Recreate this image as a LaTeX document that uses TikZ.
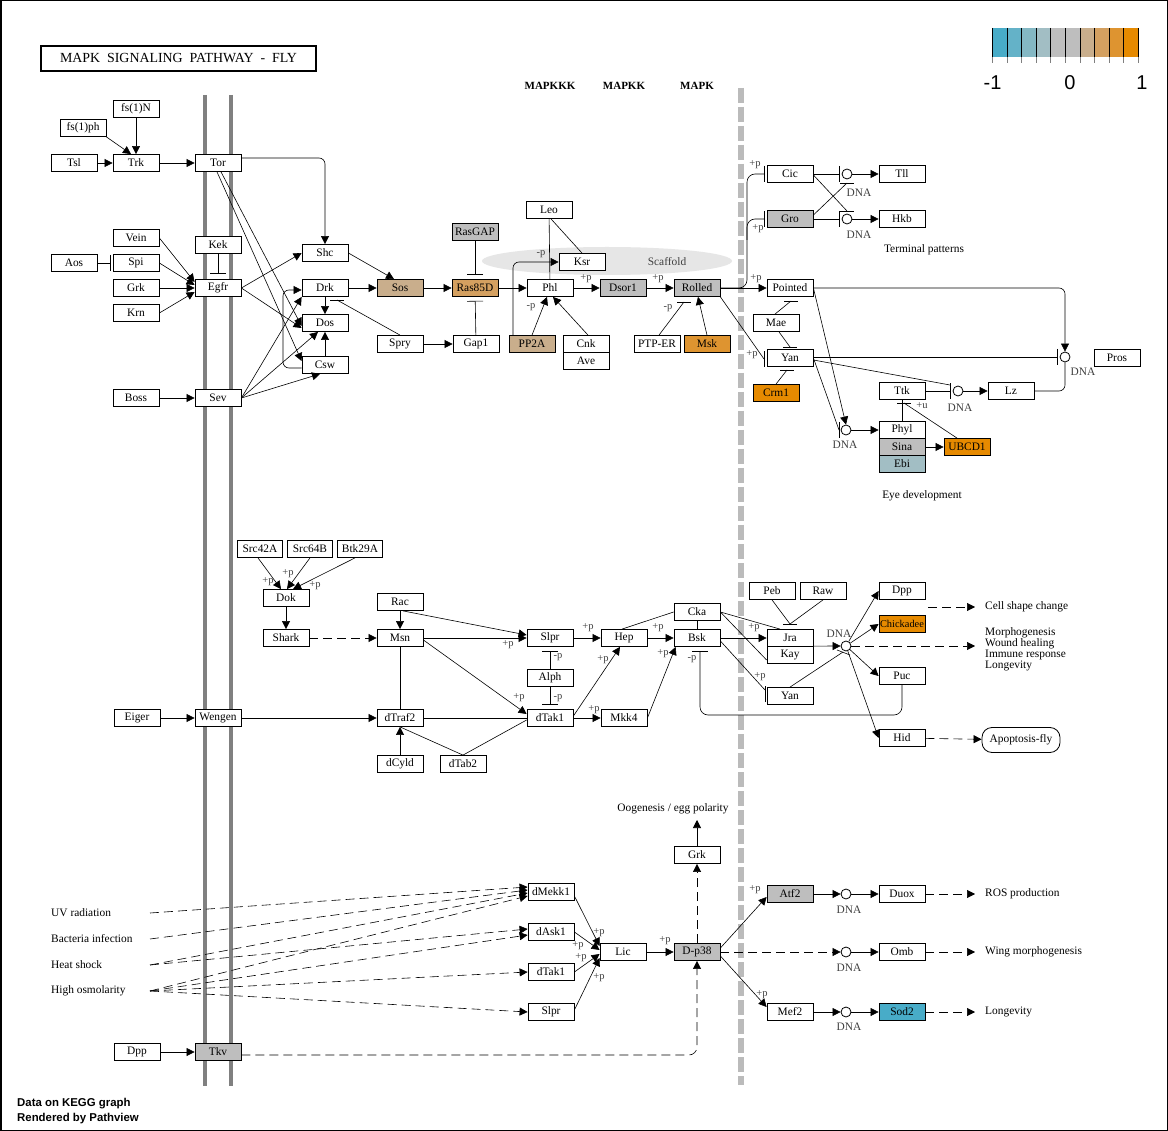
\documentclass[tikz,border=0pt]{standalone}
\usepackage{fontspec}
\setmainfont{Liberation Serif}
\newfontfamily\sansf{Liberation Sans}
\usetikzlibrary{arrows.meta}
\definecolor{kgray}{HTML}{BEBEBE}
\definecolor{ktan}{HTML}{C9AE8C}
\definecolor{kras}{HTML}{D4A060}
\definecolor{kmsk}{HTML}{DE9430}
\definecolor{korg}{HTML}{E68A00}
\definecolor{kblue}{HTML}{48ACC8}
\definecolor{kebi}{HTML}{A2BEC4}
\definecolor{kmem}{HTML}{808080}
\definecolor{kdiv}{HTML}{BBBBBB}
\definecolor{kscaf}{HTML}{E6E6E6}
\definecolor{klab}{HTML}{404040}
\newcommand\kfont{\fontsize{11.4}{12}\selectfont}
\newcommand\kpfont{\fontsize{10.5}{11}\selectfont}
\newcommand\khbar[1]{\draw[edge] ([xshift=-7pt]#1) -- ([xshift=7pt]#1);}
\newcommand\kvbar[1]{\draw[edge] ([yshift=-8pt]#1) -- ([yshift=8pt]#1);}
\begin{document}
\begin{tikzpicture}[x=1pt, y=-1pt,
  edge/.style={line width=0.6pt},
  act/.style={edge, -{Triangle[length=8pt,width=8pt]}},
  inh/.style={edge, -{Bar[width=16pt]}, shorten >=2pt},
  ind/.style={act, dash pattern=on 9pt off 5pt},
  gene/.style={draw, line width=0.8pt, minimum width=46pt, minimum height=17pt, inner sep=0pt, fill=white, font=\kfont},
  gr/.style={gene, fill=kgray},
  dna/.style={circle, draw, line width=0.8pt, fill=white, minimum size=10pt, inner sep=0pt},
  txt/.style={font=\kfont, inner sep=0pt},
  lab/.style={font=\kpfont, text=klab, inner sep=0pt},
  dnal/.style={font=\kfont, text=klab, inner sep=0pt}]
\useasboundingbox (0,0) rectangle (1168,1131);
\fill[white] (0,0) rectangle (1168,1131);
\draw[line width=1.5pt] (0.75,0.75) rectangle (1167.25,1130.25);

% ---------- background structures
\draw[kmem, line width=4pt] (205,95) -- (205,1086);
\draw[kmem, line width=4pt] (231,95) -- (231,1086);
\draw[kdiv, line width=6pt, dash pattern=on 15pt off 4pt] (741,88) -- (741,1085);
\fill[kscaf] (607,261) ellipse [x radius=125pt, y radius=14pt];
\node[txt, text=klab] (scafl) at (667,262) {Scaffold};

% ---------- title and headers
\node[draw, line width=1.6pt, minimum width=275pt, minimum height=25pt, inner sep=0pt,
      font=\fontsize{13.9}{14}\selectfont] (title) at (178.5,58.5) {MAPK\ \ SIGNALING\ \ PATHWAY\ \ -\ \ FLY};
\node[font=\bfseries\fontsize{11}{12}\selectfont, inner sep=0pt] (hK3) at (550,86) {MAPKKK};
\node[font=\bfseries\fontsize{11}{12}\selectfont, inner sep=0pt] (hK2) at (624,86) {MAPKK};
\node[font=\bfseries\fontsize{11}{12}\selectfont, inner sep=0pt] (hK1) at (697,86) {MAPK};

% ---------- legend
\foreach \c [count=\i from 0] in {48ACC8,64B2C8,84B8C4,A2BEC4,BEBEBE,BEBEBE,C9AE8C,D4A060,DE9430,E68A00} {
  \definecolor{lc}{HTML}{\c}
  \fill[lc] ({992.5+\i*14.55},28) rectangle ({992.5+(\i+1)*14.55},57);
}
\foreach \i in {0,...,10} {
  \draw[line width=0.6pt] ({992.5+\i*14.55},28) -- ({992.5+\i*14.55},57);
  \draw[kmem, line width=0.6pt] ({992.5+\i*14.55},57) -- ({992.5+\i*14.55},63);
}
\node[font=\sansf\fontsize{20}{20}\selectfont, inner sep=0pt] (lgm) at (992.5,83) {-1};
\node[font=\sansf\fontsize{20}{20}\selectfont, inner sep=0pt] (lg0) at (1070,83) {0};
\node[font=\sansf\fontsize{20}{20}\selectfont, inner sep=0pt] (lg1) at (1142,83) {1};

% ---------- nodes: top left
\node[gene] (fsN) at (136,109) {fs(1)N};
\node[gene] (fsph) at (83,128) {fs(1)ph};
\node[gene] (Tsl) at (74,163) {Tsl};
\node[gene] (Trk) at (136,163) {Trk};
\node[gene] (Tor) at (218,163) {Tor};
\node[gene] (Vein) at (136,238) {Vein};
\node[gene] (Aos) at (74,263) {Aos};
\node[gene] (Spi) at (136,263) {Spi};
\node[gene] (Grk) at (136,288) {Grk};
\node[gene] (Krn) at (136,313) {Krn};
\node[gene] (Kek) at (218,245) {Kek};
\node[gene] (Egfr) at (218,288) {Egfr};
\node[gene] (Boss) at (136,398) {Boss};
\node[gene] (Sev) at (218,398) {Sev};
\node[gene] (Shc) at (325,253) {Shc};
\node[gene] (Drk) at (325,288) {Drk};
\node[gene] (Dos) at (325,323) {Dos};
\node[gene] (Csw) at (325,365) {Csw};
\node[gene, fill=ktan] (Sos) at (400,288) {Sos};
\node[gr] (RasGAP) at (475,232) {RasGAP};
\node[gene, fill=kras] (Ras) at (475,288) {Ras85D};
\node[gene] (Gap1) at (476,344) {Gap1};
\node[gene] (Spry) at (400,344) {Spry};
\node[gene] (Leo) at (549,210) {Leo};
\node[gene] (Ksr) at (582,262) {Ksr};
\node[gene] (Phl) at (550,288) {Phl};
\node[gene, fill=ktan] (PP2A) at (532,344) {PP2A};
\node[gene] (Cnk) at (586,344) {Cnk};
\node[gene] (Ave) at (586,361) {Ave};
\node[gr] (Dsor1) at (623,288) {Dsor1};
\node[gr] (Rolled) at (697,288) {Rolled};
\node[gene] (PTPER) at (657,344) {PTP-ER};
\node[gene, fill=kmsk] (Msk) at (707,344) {Msk};

% ---------- nodes: top right
\node[gene] (Cic) at (790,174) {Cic};
\node[gr] (Gro) at (790,219) {Gro};
\node[dna] (dTll) at (847,174) {};
\node[dna] (dHkb) at (847,219) {};
\node[gene] (Tll) at (902,174) {Tll};
\node[gene] (Hkb) at (902,219) {Hkb};
\node[gene] (Pointed) at (790,288) {Pointed};
\node[gene] (Mae) at (776,323) {Mae};
\node[gene] (Yan) at (790,358) {Yan};
\node[gene, fill=korg] (Crm1) at (776,393) {Crm1};
\node[gene] (Ttk) at (902,391) {Ttk};
\node[dna] (dTtk) at (958,391) {};
\node[gene] (Lz) at (1011,391) {Lz};
\node[gene] (Phyl) at (902,430) {Phyl};
\node[gr] (Sina) at (902,447) {Sina};
\node[gene, fill=kebi] (Ebi) at (902,464) {Ebi};
\node[dna] (dPhyl) at (846,430) {};
\node[gene, fill=korg] (UBCD1) at (967,447) {UBCD1};
\node[dna] (dPros) at (1065,357) {};
\node[gene] (Pros) at (1117,358) {Pros};
\node[txt] (termp) at (924,250) {Terminal patterns};
\node[txt] (eyed) at (922,496) {Eye development};

% ---------- nodes: middle
\node[gene, minimum width=45pt] (Src42A) at (260,549) {Src42A};
\node[gene, minimum width=45pt] (Src64B) at (310,549) {Src64B};
\node[gene, minimum width=45pt] (Btk) at (360,549) {Btk29A};
\node[gene] (Dok) at (286,598) {Dok};
\node[gene] (Shark) at (286,638) {Shark};
\node[gene] (Rac) at (400,602) {Rac};
\node[gene] (Msn) at (400,638) {Msn};
\node[gene] (Slpr) at (550,638) {Slpr};
\node[gene] (Hep) at (624,638) {Hep};
\node[gene] (Cka) at (697,612) {Cka};
\node[gene] (Bsk) at (697,638) {Bsk};
\node[gene] (Alph) at (550,678) {Alph};
\node[gene] (Eiger) at (137,718) {Eiger};
\node[gene] (Wengen) at (218,718) {Wengen};
\node[gene] (dTraf2) at (400,718) {dTraf2};
\node[gene] (dTak) at (550,718) {dTak1};
\node[gene] (Mkk4) at (624,718) {Mkk4};
\node[gene] (dCyld) at (400,764) {dCyld};
\node[gene] (dTab2) at (463,764) {dTab2};
\node[gene] (Peb) at (772,591) {Peb};
\node[gene] (Raw) at (823,591) {Raw};
\node[gene] (Jra) at (790,638) {Jra};
\node[gene] (Kay) at (790,655) {Kay};
\node[gene] (Yan2) at (790,696) {Yan};
\node[dna] (dJ) at (846,646) {};
\node[gene] (Dpp) at (902,591) {Dpp};
\node[gene, fill=korg, font=\fontsize{10.4}{12}\selectfont] (Chick) at (902,624) {Chickadee};
\node[gene] (Puc) at (902,676) {Puc};
\node[gene] (Hid) at (902,738) {Hid};
\node[draw, line width=0.8pt, rounded corners=10pt, minimum width=78pt, minimum height=25pt, inner sep=0pt, font=\kfont] (Apop) at (1021,740) {Apoptosis-fly};
\node[txt, anchor=west] (tcell) at (985,607) {Cell shape change};
\node[txt, anchor=west] (tm1) at (985,633) {Morphogenesis};
\node[txt, anchor=west] (tm2) at (985,644) {Wound healing};
\node[txt, anchor=west] (tm3) at (985,655) {Immune response};
\node[txt, anchor=west] (tm4) at (985,666) {Longevity};

% ---------- nodes: bottom
\node[txt, anchor=west] (tUV) at (51,913) {UV radiation};
\node[txt, anchor=west] (tBac) at (51,939) {Bacteria infection};
\node[txt, anchor=west] (tHeat) at (51,965) {Heat shock};
\node[txt, anchor=west] (tOsm) at (51,991) {High osmolarity};
\coordinate (sUV) at (150,913);
\coordinate (sBac) at (150,939);
\coordinate (sHeat) at (150,965);
\coordinate (sOsm) at (150,991);
\node[gene] (dMekk) at (551,892) {dMekk1};
\node[gene] (dAsk) at (551,932) {dAsk1};
\node[gene] (dTak2) at (551,972) {dTak1};
\node[gene] (Slpr2) at (551,1012) {Slpr};
\node[gene] (Lic) at (623,952) {Lic};
\node[gr] (Dp38) at (697,952) {D-p38};
\node[gene] (Grk2) at (697,855) {Grk};
\node[txt] (oog) at (673,809) {Oogenesis / egg polarity};
\coordinate (oogtip) at (697,820);
\node[gr] (Atf2) at (790,894) {Atf2};
\node[dna] (dDuox) at (846,894) {};
\node[gene] (Duox) at (902,894) {Duox};
\node[dna] (dOmb) at (846,952) {};
\node[gene] (Omb) at (902,952) {Omb};
\node[gene] (Mef2) at (790,1012) {Mef2};
\node[dna] (dSod) at (846,1012) {};
\node[gene, fill=kblue] (Sod2) at (902,1012) {Sod2};
\node[txt, anchor=west] (tros) at (985,894) {ROS production};
\node[txt, anchor=west] (twing) at (985,952) {Wing morphogenesis};
\node[txt, anchor=west] (tlong) at (985,1012) {Longevity};
\node[gene] (Dpp2) at (137,1052) {Dpp};
\node[gr] (Tkv) at (218,1052) {Tkv};
\node[font=\sansf\bfseries\fontsize{11.4}{13}\selectfont, inner sep=0pt, anchor=west] (pv1) at (17,1104) {Data on KEGG graph};
\node[font=\sansf\bfseries\fontsize{11.4}{13}\selectfont, inner sep=0pt, anchor=west] (pv2) at (17,1119) {Rendered by Pathview};

% ---------- edges: top left
\draw[act] (fsN.south) -- (Trk.north);
\draw[act] (fsph.south east) -- ([xshift=-5pt]Trk.north);
\draw[act] (Tsl) -- (Trk);
\draw[act] (Trk) -- (Tor);
\draw[act, rounded corners=6pt] ([yshift=5pt]Tor.east) -| (Shc.north);
\draw[act] ([xshift=3pt]Tor.south) -- ([yshift=-3pt]Dos.west);
\draw[act] ([xshift=-1pt]Tor.south) -- ([yshift=4pt]Csw.west);
\draw[act] (Vein.east) -- ([yshift=6pt]Egfr.west);
\draw[act] (Spi.east) -- ([yshift=3pt]Egfr.west);
\draw[act] (Grk.east) -- (Egfr.west);
\draw[act] (Krn.east) -- ([yshift=-4pt]Egfr.west);
\draw[inh] (Aos) -- (Spi);
\draw[inh, shorten >=5pt] (Kek) -- (Egfr);
\draw[act] (Boss) -- (Sev);
\draw[act] (Egfr.east) -- (Shc.west);
\draw[act] (Egfr.east) -- ([yshift=-5pt]Dos.west);
\draw[act, rounded corners=6pt] ([yshift=-3pt]Csw.west) -- (283,368) -- (283,290) -- ([yshift=-2pt]Drk.west);
\draw[act] (Sev.east) -- (Drk.south west);
\draw[act] (Sev.east) -- ([xshift=-7pt]Dos.south);
\draw[act] (Sev.east) -- ([xshift=-5pt]Csw.south);
\draw[act] (Drk) -- (Dos);
\draw[act] (Csw) -- (Dos);
\draw[act] (Shc.east) -- ([xshift=-6pt]Sos.north);
\draw[act] (Drk) -- (Sos);
\draw[act] (Sos) -- (Ras);
\coordinate (spb) at (337,300);
\draw[edge] (Spry.north) -- (spb);
\khbar{spb}
\draw[act] (Spry) -- (Gap1);
\draw[inh, shorten >=4pt] (Gap1) -- (Ras);
\draw[inh, shorten >=4pt] (RasGAP) -- (Ras);
\draw[act] (Ras) -- (Phl);
\draw[edge] (Leo) -- (Phl);
\draw[edge] ([xshift=2pt]Leo.south) -- (Ksr.north);
\draw[act, rounded corners=6pt] ([xshift=-19pt]PP2A.north) |- (Ksr.west);
\draw[act] (PP2A.north) -- ([xshift=-3pt]Phl.south);
\draw[act] ([xshift=2pt]Cnk.north) -- ([xshift=3pt]Phl.south);
\draw[act] (Phl) -- (Dsor1);
\draw[act] (Dsor1) -- (Rolled);
\coordinate (ptpb) at (684,302);
\draw[edge] ([xshift=2pt]PTPER.north) -- (ptpb);
\khbar{ptpb}
\draw[act] (Msk.north) -- ([xshift=1pt]Rolled.south);

% ---------- edges: top right
\draw[act] (Rolled) -- (Pointed);
\draw[inh, rounded corners=8pt] (Rolled.east) -- (747,288) -- (747,174) -- (Cic.west);
\draw[inh, rounded corners=8pt] (747,240) -- (747,219) -- (Gro.west);
\coordinate (yanb) at (764,359);
\draw[edge] (Rolled.south east) -- (yanb);
\kvbar{yanb}
\draw[inh] (Cic) -- (dTll);
\draw[inh] (Gro) -- (dHkb);
\coordinate (hkbb) at (847,211);
\coordinate (tllb) at (847,183);
\draw[edge] ([yshift=-1pt]Cic.east) -- (hkbb);
\khbar{hkbb}
\draw[edge] ([yshift=4pt]Gro.east) -- (tllb);
\khbar{tllb}
\draw[act] (dTll) -- (Tll);
\draw[act] (dHkb) -- (Hkb);
\coordinate (maeb1) at (791,301);
\draw[edge] ([xshift=-1pt]Mae.north) -- (maeb1);
\khbar{maeb1}
\coordinate (maeb2) at (790,347);
\draw[edge] ([xshift=3pt]Mae.south) -- (maeb2);
\khbar{maeb2}
\coordinate (crmb) at (787,370);
\draw[edge] (Crm1.north) -- (crmb);
\khbar{crmb}
\draw[act] (Pointed.east) -- (dPhyl.north);
\coordinate (phb) at (839,430);
\draw[edge] (Yan.east) -- (phb);
\kvbar{phb}
\draw[act] (dPhyl) -- (Phyl);
\draw[inh] ([yshift=1pt]Yan.east) -- (dPros.west);
\draw[act, rounded corners=6pt] (Pointed.east) -| (dPros.north);
\draw[edge, rounded corners=6pt] (Lz.east) -| (dPros.south);
\coordinate (ttkb) at (950,391);
\draw[edge] ([yshift=-2pt]Yan.east) -- (950,385);
\draw[edge] (Ttk.east) -- (ttkb);
\kvbar{ttkb}
\draw[act] (dTtk) -- (Lz);
\draw[edge] (Ttk) -- (Phyl);
\coordinate (ubcb) at (904,403);
\draw[edge] ([xshift=-10pt]UBCD1.north) -- (ubcb);
\khbar{ubcb}
\draw[act] (Sina) -- (UBCD1);

% ---------- edges: middle
\draw[act] ([xshift=-2pt]Src42A.south) -- ([xshift=-5pt]Dok.north);
\draw[act] (Src64B.south) -- ([xshift=1pt]Dok.north);
\draw[act] ([xshift=-5pt]Btk.south) -- ([xshift=7pt]Dok.north);
\draw[act] (Dok) -- (Shark);
\draw[ind] (Shark) -- (Msn);
\draw[act] (Rac) -- (Msn);
\draw[act] ([xshift=3pt]Rac.south) -- ([yshift=3pt]Slpr.west);
\draw[act] (Msn) -- (Slpr);
\draw[act] ([yshift=-2pt]Msn.east) -- ([yshift=4pt]dTak.west);
\draw[edge] (Msn) -- (dTraf2);
\draw[act] (Wengen) -- (dTraf2);
\draw[act] (Eiger) -- (Wengen);
\draw[edge] (dTraf2) -- (dTak);
\draw[act] (dCyld) -- (dTraf2);
\draw[edge] (dTab2.north) -- (dTraf2.south);
\draw[edge] (dTab2.north) -- ([yshift=-2pt]dTak.west);
\draw[inh, shorten >=4pt] (Alph) -- (Slpr);
\draw[inh, shorten >=5pt] (Alph) -- (dTak);
\draw[act] (Slpr) -- (Hep);
\draw[act] (Hep) -- (Bsk);
\draw[act] ([yshift=2pt]dTak.east) -- ([xshift=-4pt]Hep.south);
\draw[act] (dTak) -- (Mkk4);
\draw[act] (Mkk4.east) -- ([xshift=2pt]Bsk.south west);
\draw[edge] (Cka.west) -- ([xshift=-2pt]Hep.north);
\draw[edge] (Cka) -- (Bsk);
\draw[inh, shorten >=4pt, rounded corners=8pt] (Puc.south) -- (902,715) -- (700,715) -- ([xshift=3pt]Bsk.south);
\draw[edge] (Cka.east) -- ([xshift=-10pt]Jra.north);
\draw[edge] (Cka.east) -- ([yshift=-5pt]Kay.west);
\draw[act] (Bsk) -- (Jra);
\coordinate (yan2b) at (765,694);
\draw[edge] ([yshift=-3pt]Bsk.east) -- (765,690);
\kvbar{yan2b}
\coordinate (jrab) at (790,624);
\draw[edge] (Peb.south) -- (jrab);
\draw[edge] (Raw.south) -- (jrab);
\khbar{jrab}
\draw[act] (Kay.north east) -- (dJ.west);
\coordinate (djb) at (843,652);
\draw[edge] (Yan2.north) -- (djb);
\draw[edge] (837,650) -- (850,655);
\draw[act] (dJ) -- (Dpp.west);
\draw[act] (dJ) -- (Chick.west);
\draw[act] (dJ) -- (Puc.west);
\draw[act] (dJ) -- (Hid.west);
\coordinate (morphA) at (975,646);
\draw[ind] (dJ) -- (morphA);
\coordinate (cellA) at (928,607);
\coordinate (cellB) at (975,607);
\draw[ind] (cellA) -- (cellB);
\draw[ind] (Hid) -- (Apop);

% ---------- edges: bottom
\draw[ind] (sUV) -- ([yshift=5pt]dMekk.west);
\draw[ind] (sBac) -- ([yshift=2pt]dMekk.west);
\draw[ind] (sHeat) -- ([yshift=-1pt]dMekk.west);
\draw[ind] (sOsm) -- ([yshift=-4pt]dMekk.west);
\draw[ind] (sHeat) -- ([yshift=3pt]dAsk.west);
\draw[ind] (sOsm) -- ([yshift=-3pt]dAsk.west);
\draw[ind] (sOsm) -- (dTak2.west);
\draw[ind] (sOsm) -- (Slpr2.west);
\draw[act] ([yshift=-4pt]dMekk.east) -- ([yshift=6pt]Lic.west);
\draw[act] (dAsk.east) -- ([yshift=2pt]Lic.west);
\draw[act] (dTak2.east) -- ([yshift=-2pt]Lic.west);
\draw[act] ([yshift=2pt]Slpr2.east) -- ([yshift=-6pt]Lic.west);
\draw[act] (Lic) -- (Dp38);
\draw[ind] (Dp38) -- (Grk2);
\draw[act] (Grk2) -- (oogtip);
\draw[ind, rounded corners=8pt] ([yshift=-3pt]Tkv.east) -- (697,1055) -- (Dp38.south);
\draw[act] (Dpp2) -- (Tkv);
\draw[act] ([yshift=4pt]Dp38.east) -- ([yshift=-3pt]Atf2.west);
\draw[ind] (Dp38) -- (dOmb);
\draw[act] ([yshift=-4pt]Dp38.east) -- ([yshift=5pt]Mef2.west);
\draw[act] (Atf2) -- (dDuox);
\draw[act] (dDuox) -- (Duox);
\draw[act] (dOmb) -- (Omb);
\draw[act] (Mef2) -- (dSod);
\draw[act] (dSod) -- (Sod2);
\coordinate (rosA) at (975,894);
\coordinate (wingA) at (975,952);
\coordinate (longA) at (975,1012);
\draw[ind] (Duox) -- (rosA);
\draw[ind] (Omb) -- (wingA);
\draw[ind] (Sod2) -- (longA);

% ---------- labels
\node[lab] (l1) at (541,254) {-p};
\node[lab] (l2) at (531,307) {-p};
\node[lab] (l3) at (586,279) {+p};
\node[lab] (l4) at (658,279) {+p};
\node[lab] (l5) at (668,308) {-p};
\node[lab] (l6) at (755,165) {+p};
\node[lab] (l7) at (758,229) {+p};
\node[lab] (l8) at (756,279) {+p};
\node[lab] (l9) at (752,355) {+p};
\node[lab] (l10) at (922,406) {+u};
\node[lab] (l11) at (268,582) {+p};
\node[lab] (l12) at (288,574) {+p};
\node[lab] (l13) at (315,586) {+p};
\node[lab] (l14) at (508,645) {+p};
\node[lab] (l15) at (519,698) {+p};
\node[lab] (l16) at (558,657) {-p};
\node[lab] (l17) at (558,698) {-p};
\node[lab] (l18) at (588,628) {+p};
\node[lab] (l19) at (658,628) {+p};
\node[lab] (l20) at (603,660) {+p};
\node[lab] (l21) at (594,710) {+p};
\node[lab] (l22) at (663,654) {+p};
\node[lab] (l23) at (692,659) {-p};
\node[lab] (l24) at (754,628) {+p};
\node[lab] (l25) at (760,677) {+p};
\node[lab] (l26) at (599,933) {+p};
\node[lab] (l27) at (578,946) {+p};
\node[lab] (l28) at (581,958) {+p};
\node[lab] (l29) at (599,978) {+p};
\node[lab] (l30) at (665,941) {+p};
\node[lab] (l31) at (755,890) {+p};
\node[lab] (l32) at (762,995) {+p};
\node[dnal] (d1) at (859,193) {DNA};
\node[dnal] (d2) at (859,235) {DNA};
\node[dnal] (d3) at (845,445) {DNA};
\node[dnal] (d4) at (960,408) {DNA};
\node[dnal] (d5) at (1083,372) {DNA};
\node[dnal] (d6) at (839,634) {DNA};
\node[dnal] (d7) at (849,910) {DNA};
\node[dnal] (d8) at (849,968) {DNA};
\node[dnal] (d9) at (849,1027) {DNA};
\end{tikzpicture}
\end{document}
